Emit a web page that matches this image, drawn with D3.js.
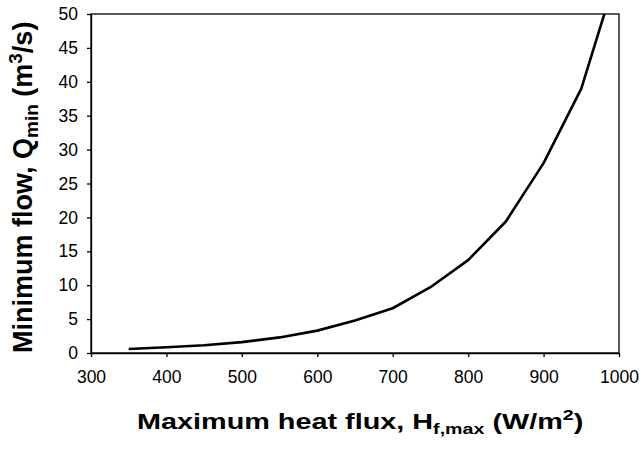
<!DOCTYPE html>
<html>
<head>
<meta charset="utf-8">
<script src="https://d3js.org/d3.v7.min.js"></script>
<style>
  body { margin: 0; background: #fff; }
  text { font-family: "Liberation Sans", Arial, sans-serif; fill: #000; }
  .axis path, .axis line { stroke: #000; stroke-width: 1.3; }
  .axis text { font-size: 17.5px; }
  .label { font-weight: bold; }
</style>
</head>
<body>
<script>
// heat flux (W/m2) vs minimum flow (m3/s)
var heatFlux = [350, 400, 450, 500, 550, 600, 650, 700, 750, 800, 850, 900, 950, 1000];
var minFlow  = [0.6, 0.85, 1.15, 1.6, 2.3, 3.3, 4.8, 6.6, 9.7, 13.7, 19.4, 28, 39, 57];
var xTicks = [300, 400, 500, 600, 700, 800, 900, 1000];
var yTicks = [0, 5, 10, 15, 20, 25, 30, 35, 40, 45, 50];

var margin = {top: 14, right: 22, bottom: 98, left: 91},
    width = 641 - margin.left - margin.right,
    height = 451 - margin.top - margin.bottom;

var x = d3.scaleLinear().domain([300, 1000]).range([0, width]);
var y = d3.scaleLinear().domain([0, 50]).range([height, 0]);

var svg = d3.select("body").append("svg")
    .attr("width", 641).attr("height", 451);
var g = svg.append("g")
    .attr("transform", "translate(" + margin.left + "," + margin.top + ")");

g.append("clipPath").attr("id", "clip")
  .append("rect").attr("width", width).attr("height", height);

// frame
g.append("rect")
    .attr("width", width).attr("height", height)
    .attr("fill", "none").attr("stroke", "#000").attr("stroke-width", 1.3);

g.append("g")
    .attr("class", "axis")
    .attr("transform", "translate(0," + height + ")")
    .call(d3.axisBottom(x).tickValues(xTicks).tickFormat(d3.format("d"))
        .tickSize(4).tickSizeOuter(0).tickPadding(14));

g.append("g")
    .attr("class", "axis")
    .call(d3.axisLeft(y).tickValues(yTicks).tickSize(4).tickSizeOuter(0).tickPadding(9));

var data = heatFlux.map(function(d, i) { return {h: d, q: minFlow[i]}; });

var line = d3.line()
    .x(function(d) { return x(d.h); })
    .y(function(d) { return y(d.q); });

g.append("path")
    .attr("clip-path", "url(#clip)")
    .attr("d", line(data))
    .attr("fill", "none")
    .attr("stroke", "#000")
    .attr("stroke-width", 2.6)
    .attr("stroke-linejoin", "round");

// x label (original is stretched wide)
var xl = svg.append("text")
    .attr("class", "label")
    .attr("font-size", 22)
    .attr("transform", "translate(137,429) scale(1.31,1)");
xl.append("tspan").text("Maximum heat flux, H");
xl.append("tspan").attr("dy", 5).attr("font-size", 15).text("f,max");
xl.append("tspan").attr("dy", -5).text(" (W/m");
xl.append("tspan").attr("dy", -9).attr("font-size", 15).text("2");
xl.append("tspan").attr("dy", 9).text(")");

// y label
var yl = svg.append("text")
    .attr("class", "label")
    .attr("font-size", 27)
    .attr("transform", "translate(32,353) rotate(-90)");
yl.append("tspan").text("Minimum flow, Q");
yl.append("tspan").attr("dy", 6).attr("font-size", 19).text("min");
yl.append("tspan").attr("dy", -6).text(" (m");
yl.append("tspan").attr("dy", -10).attr("font-size", 19).text("3");
yl.append("tspan").attr("dy", 10).text("/s)");
</script>
</body>
</html>
